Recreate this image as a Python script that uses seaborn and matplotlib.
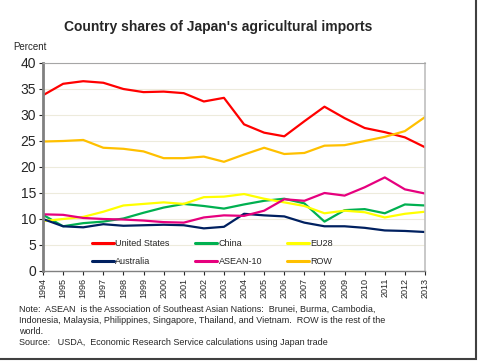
import matplotlib
matplotlib.use("Agg")
import matplotlib.pyplot as plt
import pandas as pd
import seaborn as sns
from matplotlib.patches import Rectangle

years = list(range(1994, 2014))
united_states = [33.8, 36.0, 36.5, 36.2, 35.0, 34.4, 34.5, 34.2, 32.6, 33.3,
                 28.2, 26.6, 25.9, 28.8, 31.6, 29.4, 27.5, 26.7, 25.7, 23.8]
china = [10.8, 8.6, 9.2, 9.5, 10.1, 11.2, 12.2, 12.9, 12.5, 12.0,
         12.8, 13.5, 13.9, 13.0, 9.5, 11.7, 11.9, 11.1, 12.8, 12.6]
eu28 = [9.6, 10.0, 10.4, 11.4, 12.6, 12.9, 13.2, 12.9, 14.2, 14.3,
        14.8, 13.9, 13.2, 12.5, 11.1, 11.6, 11.3, 10.3, 11.0, 11.4]
australia = [10.0, 8.6, 8.4, 9.0, 8.7, 8.8, 8.9, 8.8, 8.2, 8.5,
             11.0, 10.7, 10.5, 9.3, 8.6, 8.6, 8.3, 7.8, 7.7, 7.5]
asean10 = [10.9, 10.8, 10.2, 10.0, 9.9, 9.7, 9.4, 9.3, 10.3, 10.7,
           10.6, 11.6, 13.8, 13.5, 15.0, 14.5, 16.1, 18.0, 15.7, 14.9]
row = [24.9, 25.0, 25.2, 23.7, 23.5, 23.0, 21.7, 21.7, 22.0, 21.0,
       22.4, 23.7, 22.5, 22.7, 24.1, 24.2, 25.0, 25.8, 26.9, 29.6]

series = {"United States": united_states, "China": china, "EU28": eu28,
          "Australia": australia, "ASEAN-10": asean10, "ROW": row}
colors = {"United States": "#FF0000", "China": "#00B050", "EU28": "#FFFF00",
          "Australia": "#002060", "ASEAN-10": "#E6007E", "ROW": "#FFC000"}

df = pd.DataFrame([(y, name, v) for name, vals in series.items()
                   for y, v in zip(years, vals)],
                  columns=["year", "country", "share"])

sns.set_style("white")
plt.rcParams['font.family'] = ['Liberation Sans', 'DejaVu Sans']

fig = plt.figure(figsize=(4.8, 3.62), dpi=100)
ax = fig.add_axes([43 / 480, 91 / 362, 382 / 480, 208 / 362])

sns.lineplot(data=df, x="year", y="share", hue="country", palette=colors,
             hue_order=list(series.keys()), linewidth=1.6, ax=ax)

ax.set_xlim(1994, 2013)
ax.set_ylim(0, 40)
ax.set_yticks(range(0, 41, 5))
ax.set_xticks(years)
ax.set_xticklabels([str(y) for y in years], rotation=90, fontsize=6.5)
ax.tick_params(axis='y', labelsize=10, length=3, width=0.8, direction='out', left=True, pad=2)
ax.tick_params(axis='x', length=3, width=0.8, direction='out', bottom=True, pad=2)
ax.set_xlabel("")
ax.set_ylabel("")
ax.grid(axis='y', color="#EDEBDC", linewidth=0.8)
ax.set_axisbelow(True)

ax.spines['left'].set_color("#808080")
ax.spines['left'].set_linewidth(2)
ax.spines['bottom'].set_color("#808080")
ax.spines['bottom'].set_linewidth(1)
ax.spines['top'].set_color("#A6A6A6")
ax.spines['top'].set_linewidth(0.8)
ax.spines['right'].set_color("#BFBFBF")
ax.spines['right'].set_linewidth(1.2)

handles, labels = ax.get_legend_handles_labels()
hmap = dict(zip(labels, handles))
# legend fills columns first, so reorder to read row-wise
col_order = ["United States", "Australia", "China", "ASEAN-10", "EU28", "ROW"]
leg = ax.legend([hmap[k] for k in col_order], col_order, ncol=3,
                loc='center left', bbox_to_anchor=(0.128, 0.087), frameon=False,
                fontsize=6.5, handlelength=2.4, handletextpad=0.2,
                columnspacing=2.8, labelspacing=1.0, borderpad=0,
                borderaxespad=0)
for line in leg.get_lines():
    line.set_linewidth(2.2)

fig.text(0.455, 0.925, "Country shares of Japan's agricultural imports",
         ha='center', va='center', fontsize=10, fontweight='bold')
fig.text(13 / 480, 1 - 47 / 362, "Percent", ha='left', va='center', fontsize=7)

note = ("Note:  ASEAN  is the Association of Southeast Asian Nations:  Brunei, Burma, Cambodia,\n"
        "Indonesia, Malaysia, Philippines, Singapore, Thailand, and Vietnam.  ROW is the rest of the\n"
        "world.\n"
        "Source:   USDA,  Economic Research Service calculations using Japan trade")
fig.text(19 / 480, 1 - 305 / 362, note, ha='left', va='top', fontsize=6.5,
         linespacing=1.3)

fig.patches.append(Rectangle((-0.01, 3 / 362), 476 / 480 + 0.01, 1 - 3 / 362 + 0.01,
                             transform=fig.transFigure, fill=False,
                             edgecolor="#404040", linewidth=1.5))

fig.savefig("out.png", dpi=100)
